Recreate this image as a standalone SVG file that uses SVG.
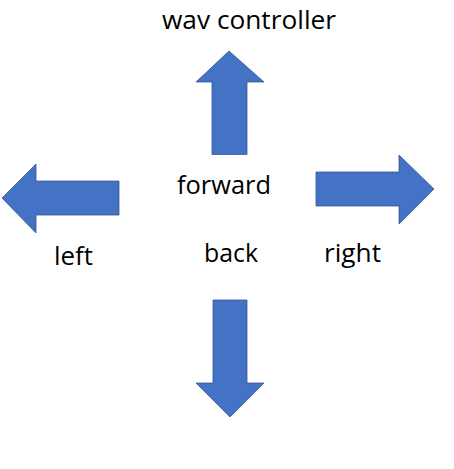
<svg xmlns="http://www.w3.org/2000/svg" width="454" height="469" viewBox="0 0 454 469">
<style>
.arrow{fill:#4472C4;stroke:#2F528F;stroke-width:0.75}
.lbl{font-family:"Open Sans","Liberation Sans",sans-serif;font-size:25px;fill:#000}
</style>
<rect width="454" height="469" fill="#fff"/>
<g id="title"><text class="lbl" x="162" y="28.5" textLength="174" lengthAdjust="spacingAndGlyphs">wav controller</text></g>
<g id="arrows">
<polygon id="up" class="arrow" points="229,51 264,82 247,82 247,154.5 212,154.5 212,82 196,82"/>
<polygon id="leftArrow" class="arrow" points="2,198 36,164 36,181 119,181 119,215 36,215 36,233"/>
<polygon id="rightArrow" class="arrow" points="434,189 399,155 399,172 316,172 316,206 399,206 399,224"/>
<polygon id="down" class="arrow" points="230,417 264,383 247,383 247,300 213,300 213,383 196,383"/>
</g>
<g id="forward"><text class="lbl" x="177" y="193.5" textLength="94" lengthAdjust="spacingAndGlyphs">forward</text></g>
<g id="left"><text class="lbl" x="54" y="265" textLength="39" lengthAdjust="spacingAndGlyphs">left</text></g>
<g id="back"><text class="lbl" x="204" y="261.7" textLength="54" lengthAdjust="spacingAndGlyphs">back</text></g>
<g id="right"><text class="lbl" x="324" y="261.7" textLength="57" lengthAdjust="spacingAndGlyphs">right</text></g>
</svg>
